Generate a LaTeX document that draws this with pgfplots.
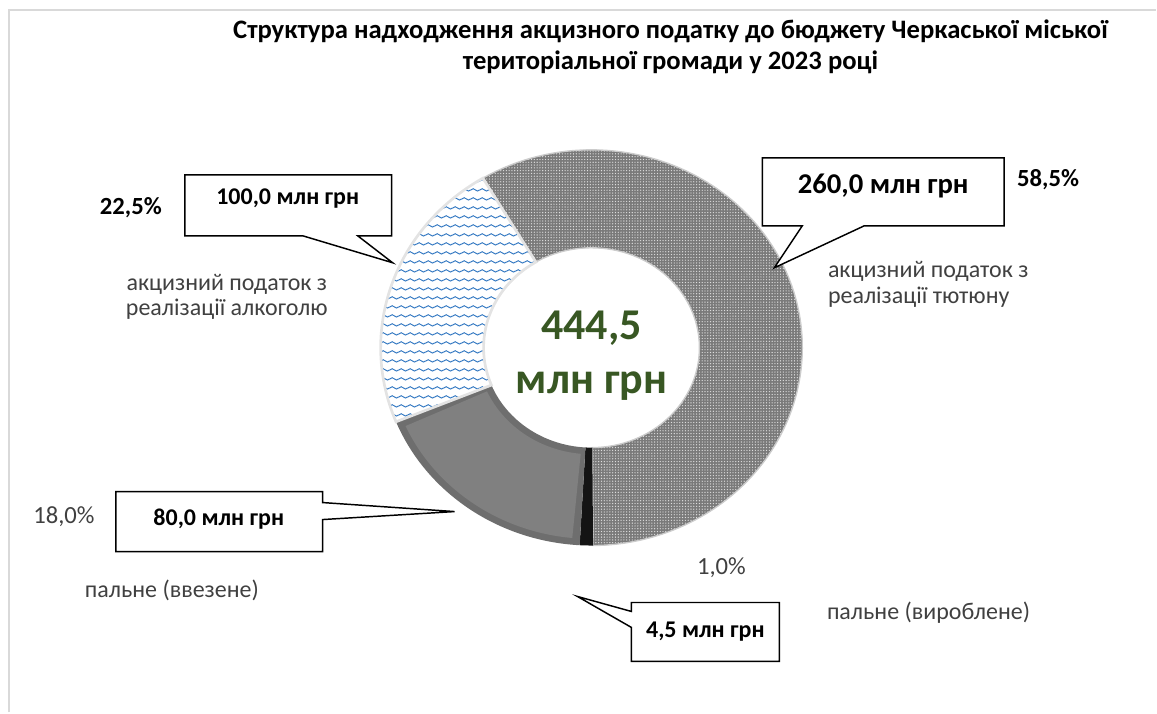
\documentclass[border=0pt]{standalone}
\usepackage{fontspec}
\setmainfont{Carlito}
\usepackage{pgfplots}
\pgfplotsset{compat=1.18}
\usepackage{pgfplotstable}
\usetikzlibrary{patterns,patterns.meta}
\definecolor{totgreen}{HTML}{385723}
\definecolor{wblue}{HTML}{3479C2}
\definecolor{tobgray}{HTML}{7A7A7A}
\definecolor{impgray}{HTML}{808080}
\definecolor{impedge}{HTML}{6E6E6E}
\definecolor{prodblack}{HTML}{141414}
\definecolor{frame}{HTML}{D9D9D9}
\definecolor{lbl}{HTML}{404040}

% wavy pattern of the alcohol slice
\pgfdeclarepatternformonly{waves}{\pgfqpoint{0pt}{0pt}}{\pgfqpoint{7pt}{6.5pt}}{\pgfqpoint{7pt}{6.5pt}}{%
  \pgfsetlinewidth{0.75pt}
  \pgfpathmoveto{\pgfqpoint{0pt}{3.2pt}}
  \pgfpathcurveto{\pgfqpoint{1.15pt}{4.4pt}}{\pgfqpoint{2.35pt}{4.4pt}}{\pgfqpoint{3.5pt}{3.2pt}}
  \pgfpathcurveto{\pgfqpoint{4.65pt}{2pt}}{\pgfqpoint{5.85pt}{2pt}}{\pgfqpoint{7pt}{3.2pt}}
  \pgfusepath{stroke}}

\pgfplotstableread{
cat      value
tobacco  260.0
fuelprod 4.5
fuelimp  80.0
alcohol  100.0
}\excise

\pgfplotstablegetelem{0}{value}\of\excise \let\vA\pgfplotsretval
\pgfplotstablegetelem{1}{value}\of\excise \let\vB\pgfplotsretval
\pgfplotstablegetelem{2}{value}\of\excise \let\vC\pgfplotsretval
\pgfplotstablegetelem{3}{value}\of\excise \let\vD\pgfplotsretval
\pgfmathsetmacro\total{\vA+\vB+\vC+\vD}
\pgfmathsetmacro\tA{121}
\pgfmathsetmacro\tB{\tA-360*(\vA/\total)}
\pgfmathsetmacro\tC{\tB-360*(\vB/\total)}
\pgfmathsetmacro\tD{\tC-360*(\vC/\total)}
\pgfmathsetmacro\tE{\tD-360*(\vD/\total)}
\pgfmathsetmacro\tCi{\tC-2.2}
\pgfmathsetmacro\tDi{\tD+2.2}

% ring radii (1px = 0.75pt)
\def\Rxo{158.25pt}\def\Ryo{148.5pt}
\def\Rxi{81pt}\def\Ryi{75pt}

% #1 style, #2 start angle, #3 end angle, #4 #5 outer radii, #6 #7 inner radii
\newcommand{\slice}[7]{\path[#1] ([shift={(#2:#4 and #5)}]c) arc[start angle=#2,end angle=#3,x radius=#4,y radius=#5]
  -- ([shift={(#3:#6 and #7)}]c) arc[start angle=#3,end angle=#2,x radius=#6,y radius=#7] -- cycle;}

\begin{document}
\begin{tikzpicture}
\begin{axis}[x=0.75pt,y=0.75pt,xmin=0,xmax=1157,ymin=0,ymax=713,y dir=reverse,
  hide axis,clip=false,scale only axis]
\path (axis cs:0,0) rectangle (axis cs:1157,713);
\draw[frame,line width=1.5pt] (axis cs:9,713) -- (axis cs:9,10) -- (axis cs:1157,10);
\coordinate (c) at (axis cs:592,348);

% slices
\slice{fill=tobgray,postaction={pattern={Dots[distance=2.1pt,radius=0.5pt]},pattern color=white!75!gray}}{\tA}{\tB}{\Rxo}{\Ryo}{\Rxi}{\Ryi}
\slice{draw=gray!40,line width=1pt}{\tA}{\tB}{\Rxo}{\Ryo}{\Rxi}{\Ryi}
\slice{fill=prodblack}{\tB}{\tC}{\Rxo}{\Ryo}{\Rxi}{\Ryi}
\slice{fill=impedge}{\tC}{\tD}{\Rxo}{\Ryo}{\Rxi}{\Ryi}
\slice{fill=impgray}{\tCi}{\tDi}{153pt}{143.5pt}{86pt}{80pt}
\slice{fill=white,postaction={pattern=waves,pattern color=wblue}}{\tD}{\tE}{\Rxo}{\Ryo}{\Rxi}{\Ryi}
\slice{draw=gray!22,line width=2pt}{\tD}{\tE}{\Rxo}{\Ryo}{\Rxi}{\Ryi}

% title
\node[font=\fontsize{20}{23}\selectfont\bfseries,align=center] at (axis cs:671,47)
  {Структура надходження акцизного податку до бюджету Черкаської міської\\територіальної громади у 2023 році};

% total
\node[font=\fontsize{33}{40}\selectfont\bfseries,text=totgreen,align=center] at (axis cs:592,356) {444,5\\млн грн};

% callouts
\draw[fill=white,line width=1.1pt] (axis cs:763,158) -- (axis cs:1005,158) -- (axis cs:1005,226) -- (axis cs:865,226)
  -- (axis cs:775,268) -- (axis cs:803,226) -- (axis cs:763,226) -- cycle;
\node[font=\fontsize{21.5}{25}\selectfont\bfseries] at (axis cs:884,186) {260,0 млн грн};

\draw[fill=white,line width=1.1pt] (axis cs:185,175) -- (axis cs:392,175) -- (axis cs:392,236) -- (axis cs:358,236)
  -- (axis cs:393,263) -- (axis cs:303,236) -- (axis cs:185,236) -- cycle;
\node[font=\fontsize{18}{21}\selectfont\bfseries] at (axis cs:288,199) {100,0 млн грн};

\draw[fill=white,line width=1.1pt] (axis cs:116,492) -- (axis cs:323,492) -- (axis cs:323,503) -- (axis cs:455,512)
  -- (axis cs:323,520) -- (axis cs:323,552) -- (axis cs:116,552) -- cycle;
\node[font=\fontsize{18}{21}\selectfont\bfseries] at (axis cs:219,520) {80,0 млн грн};

\draw[fill=white,line width=1.1pt] (axis cs:632,603) -- (axis cs:780,603) -- (axis cs:780,662) -- (axis cs:632,662)
  -- (axis cs:632,628) -- (axis cs:578,597) -- (axis cs:632,612) -- cycle;
\node[font=\fontsize{18}{21}\selectfont\bfseries] at (axis cs:706,632) {4,5 млн грн};

% percentages
\node[font=\fontsize{18.5}{21}\selectfont\bfseries] at (axis cs:1049,180) {58,5\%};
\node[font=\fontsize{18.5}{21}\selectfont\bfseries] at (axis cs:131,208) {22,5\%};
\node[font=\fontsize{18.5}{21}\selectfont,text=lbl] at (axis cs:64,517) {18,0\%};
\node[font=\fontsize{18.5}{21}\selectfont,text=lbl] at (axis cs:722,568) {1,0\%};

% category labels
\node[font=\fontsize{18}{19.5}\selectfont,text=lbl,align=left,anchor=west] at (axis cs:824,285)
  {акцизний податок з\\реалізації тютюну};
\node[font=\fontsize{18}{19}\selectfont,text=lbl,align=center] at (axis cs:227,297)
  {акцизний податок з\\реалізації алкоголю};
\node[font=\fontsize{18}{21}\selectfont,text=lbl] at (axis cs:172,591) {пальне (ввезене)};
\node[font=\fontsize{18}{21}\selectfont,text=lbl,anchor=west] at (axis cs:823,613) {пальне (вироблене)};
\end{axis}
\end{tikzpicture}
\end{document}
